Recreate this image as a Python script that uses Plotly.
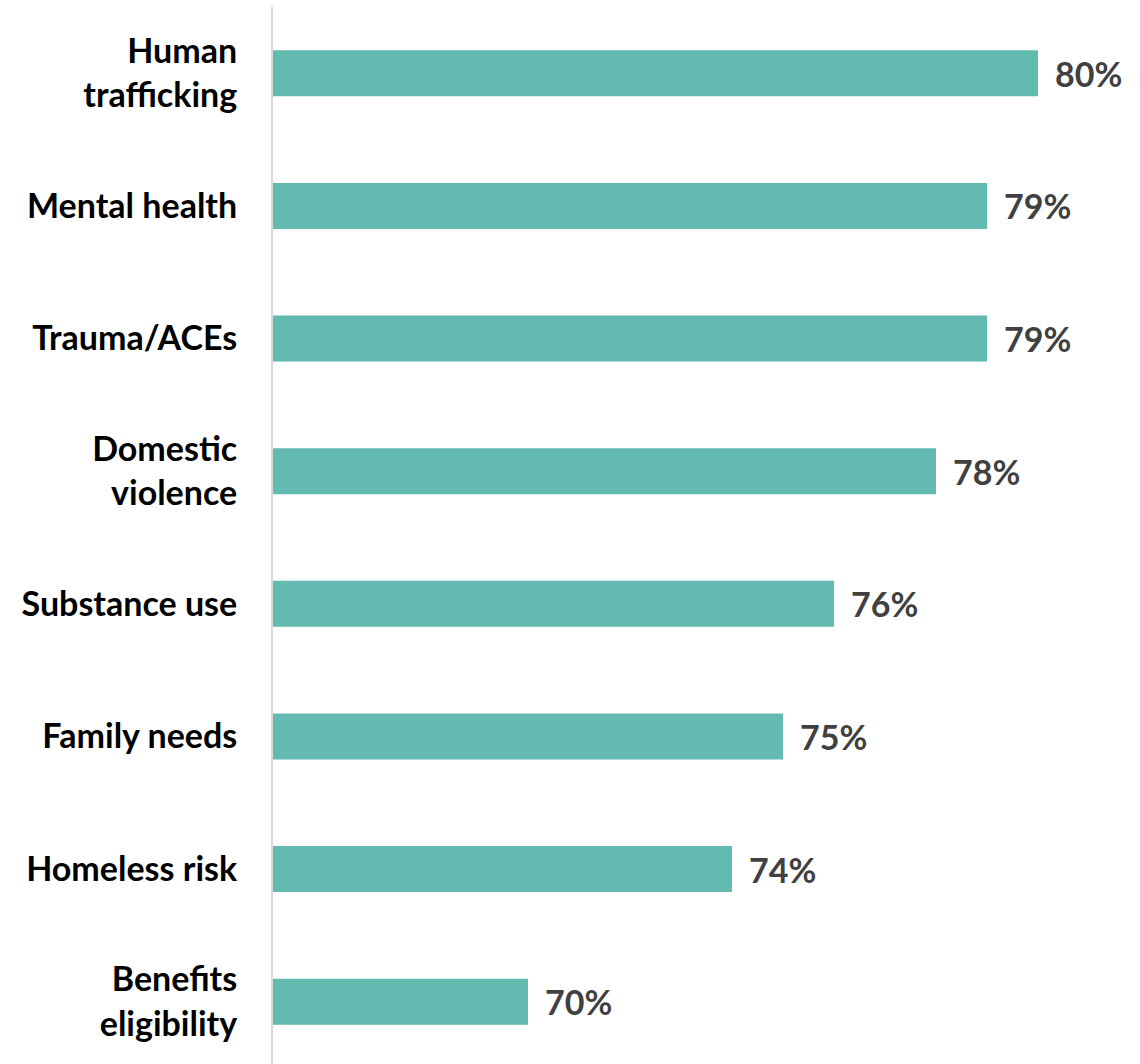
import plotly.graph_objects as go

# Share of respondents by topic
categories = [
    "Human<br>trafficking",
    "Mental health",
    "Trauma/ACEs",
    "Domestic<br>violence",
    "Substance use",
    "Family needs",
    "Homeless risk",
    "Benefits<br>eligibility",
]
values = [80, 79, 79, 78, 76, 75, 74, 70]
value_labels = [f"{v}%" for v in values]

BAR_COLOR = "#62BAB0"
FONT = "Lato"

fig = go.Figure(
    go.Bar(
        x=values,
        y=categories,
        orientation="h",
        marker=dict(color=BAR_COLOR, line=dict(width=0)),
        hoverinfo="skip",
    )
)

# value labels to the right of each bar
for v, c, t in zip(values, categories, value_labels):
    fig.add_annotation(
        x=v, y=c, text=t, showarrow=False,
        xanchor="left", yanchor="middle", xshift=15,
        font=dict(family=FONT, size=34, color="#404040", weight="bold"),
    )

fig.update_layout(
    width=1140,
    height=1064,
    margin=dict(l=273, r=0, t=7, b=0, pad=0),
    plot_bgcolor="white",
    paper_bgcolor="white",
    bargap=0.653,
    showlegend=False,
    xaxis=dict(
        range=[65, 82],
        visible=False,
        showgrid=False,
        zeroline=False,
    ),
    yaxis=dict(
        range=[7.47, -0.5],
        showgrid=False,
        zeroline=False,
        showline=True,
        linecolor="#D9D9D9",
        linewidth=2,
        ticks="",
        ticklabelstandoff=27,
        tickfont=dict(family=FONT, size=34, color="black", weight="bold"),
    ),
)

fig.write_html("out.html")
